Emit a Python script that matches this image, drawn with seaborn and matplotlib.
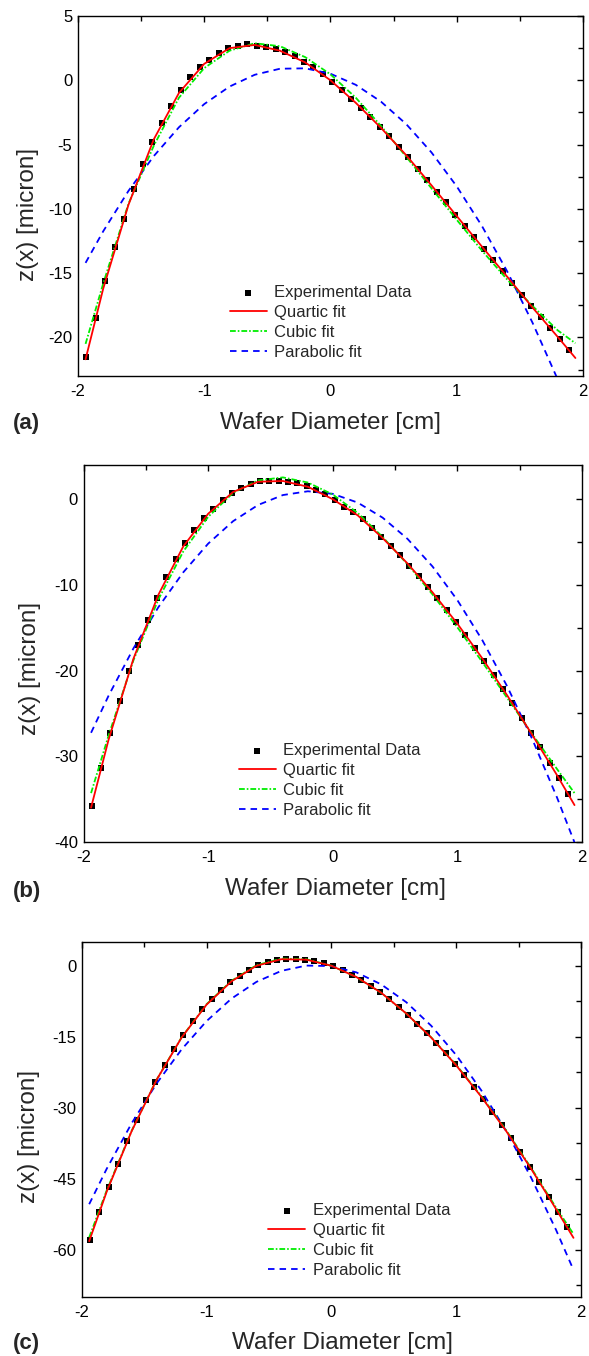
import matplotlib
matplotlib.use('Agg')
import matplotlib.pyplot as plt
import seaborn as sns
from matplotlib.ticker import MultipleLocator

# Experimental sample positions (cm), shared by the three wafers
x_exp = [-1.935, -1.86, -1.785, -1.71, -1.635, -1.56, -1.485, -1.41, -1.335, -1.26,
         -1.185, -1.11, -1.035, -0.96, -0.885, -0.81, -0.735, -0.66, -0.585, -0.51,
         -0.435, -0.36, -0.285, -0.21, -0.135, -0.06, 0.015, 0.09, 0.165, 0.24,
         0.315, 0.39, 0.465, 0.54, 0.615, 0.69, 0.765, 0.84, 0.915, 0.99,
         1.065, 1.14, 1.215, 1.29, 1.365, 1.44, 1.515, 1.59, 1.665, 1.74,
         1.815, 1.89]

# Measured profiles z(x) in micron
z_exp_a = [-21.5, -18.5, -15.6, -13.0, -10.75, -8.45, -6.5, -4.8, -3.3, -1.97,
           -0.73, 0.23, 1.0, 1.6, 2.1, 2.5, 2.65, 2.8, 2.7, 2.6,
           2.4, 2.2, 1.87, 1.45, 1.0, 0.47, -0.1, -0.73, -1.42, -2.12,
           -2.82, -3.6, -4.35, -5.16, -6.0, -6.87, -7.75, -8.65, -9.5, -10.44,
           -11.35, -12.18, -13.13, -14.0, -14.87, -15.75, -16.68, -17.56, -18.42, -19.27,
           -20.13, -21.0]
z_exp_b = [-35.8, -31.35, -27.3, -23.56, -20.05, -16.98, -14.14, -11.49, -9.03, -7.01,
           -5.14, -3.58, -2.22, -1.09, -0.12, 0.78, 1.32, 1.83, 2.1, 2.18,
           2.18, 2.06, 1.85, 1.52, 1.05, 0.58, -0.08, -0.86, -1.48, -2.34,
           -3.35, -4.4, -5.41, -6.5, -7.75, -9.0, -10.24, -11.57, -12.93, -14.33,
           -15.81, -17.33, -18.89, -20.48, -22.12, -23.79, -25.5, -27.26, -28.97, -30.76,
           -32.59, -34.42]
z_exp_c = [-57.9, -52.0, -46.7, -41.8, -37.0, -32.66, -28.45, -24.6, -20.95, -17.66,
           -14.58, -11.77, -9.25, -7.08, -5.05, -3.5, -2.1, -0.91, 0.2, 0.8,
           1.27, 1.48, 1.51, 1.3, 1.05, 0.49, -0.14, -0.98, -1.89, -2.94,
           -4.2, -5.54, -7.0, -8.69, -10.44, -12.33, -14.23, -16.26, -18.43, -20.74,
           -23.06, -25.58, -28.17, -30.83, -33.57, -36.44, -39.38, -42.47, -45.62, -48.77,
           -52.07, -55.22]

x_fit = [-1.94, -1.8, -1.6, -1.4, -1.2, -1.0, -0.8, -0.6, -0.4, -0.2, 0.0,
         0.2, 0.4, 0.6, 0.8, 1.0, 1.2, 1.4, 1.6, 1.8, 1.94]

quartic_a = [-21.7, -16.2, -9.68, -4.6, -0.98, 1.28, 2.5, 2.75, 2.3, 1.39, 0.0,
             -1.75, -3.7, -5.83, -8.17, -10.56, -12.94, -15.28, -17.67, -19.96, -21.6]
cubic_a = [-20.5, -15.8, -9.6, -5.1, -1.35, 0.95, 2.3, 2.88, 2.65, 1.8, 0.46,
           -1.35, -3.55, -5.95, -8.4, -10.85, -13.25, -15.5, -17.55, -19.45, -20.45]
parabolic_a = [-14.2, -11.74, -8.6, -5.9, -3.65, -1.85, -0.49, 0.43, 0.9, 0.93, 0.51,
               -0.35, -1.66, -3.41, -5.61, -8.25, -11.34, -14.87, -18.85, -23.27, -26.6]

quartic_b = [-36.0, -28.1, -18.62, -11.16, -5.51, -1.69, 0.85, 2.04, 2.13, 1.46, 0.0,
             -1.88, -4.53, -7.5, -10.86, -14.53, -18.58, -22.9, -27.49, -32.22, -35.7]
cubic_b = [-34.3, -27.6, -18.8, -11.7, -6.1, -2.05, 0.75, 2.2, 2.55, 1.95, 0.55,
           -1.6, -4.4, -7.6, -11.1, -14.95, -19.0, -23.2, -27.4, -31.5, -34.3]
parabolic_b = [-27.26, -22.95, -17.41, -12.61, -8.53, -5.18, -2.56, -0.67, 0.49, 0.93, 0.63,
               -0.39, -2.15, -4.63, -7.84, -11.78, -16.45, -21.85, -27.97, -34.83, -40.06]

quartic_c = [-58.2, -47.76, -34.97, -24.11, -15.2, -8.24, -3.31, -0.02, 1.37, 1.27, -0.01,
             -2.38, -5.73, -10.09, -15.18, -21.05, -27.65, -34.91, -42.89, -51.41, -57.5]
cubic_c = [-57.4, -47.5, -34.9, -24.1, -15.15, -8.15, -3.2, 0.1, 1.5, 1.35, 0.0,
           -2.4, -5.75, -10.1, -15.15, -20.95, -27.5, -34.75, -42.7, -51.1, -56.7]
parabolic_c = [-50.39, -42.93, -33.3, -24.89, -17.7, -11.72, -6.96, -3.42, -1.09, 0.02, -0.09,
               -1.41, -3.96, -7.71, -12.69, -18.88, -26.29, -34.91, -44.76, -55.81, -64.28]

labels = ['Experimental Data', 'Quartic fit', 'Cubic fit', 'Parabolic fit']
panel_names = ['(a)', '(b)', '(c)']

sns.set_style('white')
plt.rcParams['font.family'] = ['Liberation Sans', 'DejaVu Sans']
plt.rcParams['axes.unicode_minus'] = False

fig = plt.figure(figsize=(5.89, 13.56), dpi=100)

# axes rectangles, legend anchor, ylabel / xlabel positions, panel tag y
panels = [
    dict(rect=[0.1324, 0.7227, 0.8574, 0.2655], ylim=(-23, 5), major=5, minor=2.5,
         exp=z_exp_a, q=quartic_a, c=cubic_a, p=parabolic_a,
         leg=(0.301, 0.149), ylab=(-0.098, 0.449), xlab=(0.5, -0.131), tag_y=1 - 423 / 1356),
    dict(rect=[0.1419, 0.3791, 0.8462, 0.2780], ylim=(-40, 4), major=10, minor=5,
         exp=z_exp_b, q=quartic_b, c=cubic_b, p=parabolic_b,
         leg=(0.312, 0.163), ylab=(-0.1075, 0.4615), xlab=(0.506, -0.125), tag_y=1 - 891 / 1356),
    dict(rect=[0.1387, 0.0435, 0.8477, 0.2618], ylim=(-70, 5), major=15, minor=7.5,
         exp=z_exp_c, q=quartic_c, c=cubic_c, p=parabolic_c,
         leg=(0.374, 0.159), ylab=(-0.1055, 0.4515), xlab=(0.522, -0.13), tag_y=1 - 1343 / 1356),
]

for name, cfg in zip(panel_names, panels):
    ax = fig.add_axes(cfg['rect'])

    sns.scatterplot(x=x_exp, y=cfg['exp'], ax=ax, marker='s', s=16, color='black',
                    linewidth=0, zorder=2)
    sns.lineplot(x=x_fit, y=cfg['p'], ax=ax, color='#0000ff', linewidth=1.3, zorder=3)
    ax.lines[-1].set_dashes([3.6, 2.8])
    sns.lineplot(x=x_fit, y=cfg['c'], ax=ax, color='#00ee00', linewidth=1.3, zorder=4)
    ax.lines[-1].set_dashes([3.2, 1.1, 0.9, 1.1])
    sns.lineplot(x=x_fit, y=cfg['q'], ax=ax, color='#ff0000', linewidth=1.3, zorder=5)

    scat = ax.collections[0]
    blue, green, red = ax.lines[-3], ax.lines[-2], ax.lines[-1]
    ax.legend([scat, red, green, blue], labels, loc='center left',
              bbox_to_anchor=cfg['leg'], frameon=False, fontsize=12,
              handlelength=2.2, handletextpad=0.45, labelspacing=0.3,
              borderpad=0, borderaxespad=0)

    ax.set_xlim(-2, 2)
    ax.set_ylim(*cfg['ylim'])
    ax.xaxis.set_major_locator(MultipleLocator(1))
    ax.xaxis.set_minor_locator(MultipleLocator(0.5))
    ax.yaxis.set_major_locator(MultipleLocator(cfg['major']))
    ax.yaxis.set_minor_locator(MultipleLocator(cfg['minor']))
    ax.tick_params(which='both', direction='in', top=True, right=True,
                   width=1.0, colors='black', labelsize=12)
    ax.tick_params(which='major', length=4.5)
    ax.tick_params(which='minor', length=3.5)
    ax.tick_params(axis='x', pad=6)
    ax.tick_params(axis='y', pad=4)
    for sp in ax.spines.values():
        sp.set_linewidth(1.0)
        sp.set_color('black')

    ax.set_ylabel('z(x) [micron]', fontsize=17.5)
    ax.yaxis.label.set_verticalalignment('center')
    ax.yaxis.set_label_coords(*cfg['ylab'])
    ax.set_xlabel('Wafer Diameter [cm]', fontsize=17.5)
    ax.xaxis.label.set_verticalalignment('center')
    ax.xaxis.set_label_coords(*cfg['xlab'])

    fig.text(13 / 589, cfg['tag_y'], name, fontsize=16, fontweight='bold',
             ha='left', va='center')

fig.savefig('out.png', dpi=100)
